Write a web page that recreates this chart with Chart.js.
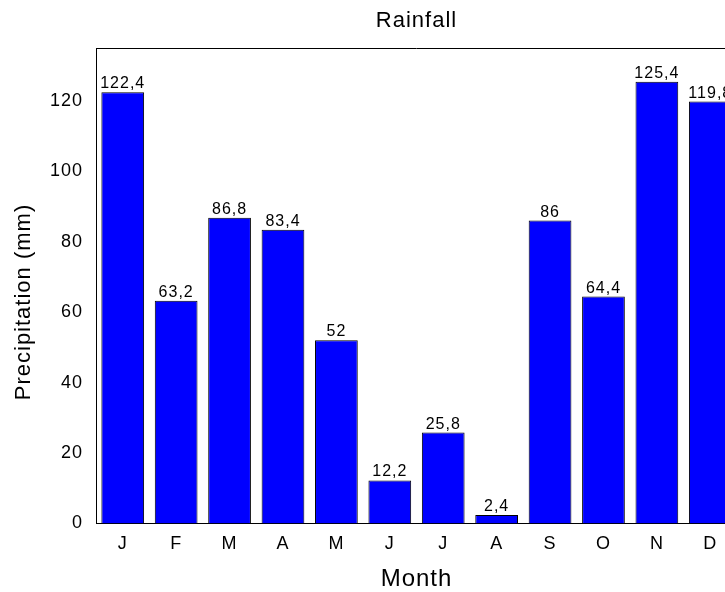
<!DOCTYPE html>
<html>
<head>
<meta charset="utf-8">
<script src="https://cdn.jsdelivr.net/npm/chart.js@4/dist/chart.umd.min.js"></script>
<style>
  html, body { margin: 0; padding: 0; background: #fff; overflow: hidden; }
  #wrap { width: 745px; height: 592px; }
</style>
</head>
<body>
<div id="wrap"><canvas id="myChart" width="745" height="592"></canvas></div>
<script>
// Monthly rainfall data
const months = ['J', 'F', 'M', 'A', 'M', 'J', 'J', 'A', 'S', 'O', 'N', 'D'];
const rainfall = [122.4, 63.2, 86.8, 83.4, 52, 12.2, 25.8, 2.4, 86, 64.4, 125.4, 119.8];
const yTicks = [0, 20, 40, 60, 80, 100, 120];

const FONT = "'Liberation Sans', Arial, sans-serif";

// value labels on top of bars, titles and the top frame line
const extras = {
    id: 'extras',
    beforeLayout(chart) {
        chart.ctx.letterSpacing = '1px';
    },
    beforeDraw(chart) {
        chart.ctx.letterSpacing = '1px';
    },
    afterDatasetsDraw(chart) {
        const ctx = chart.ctx;
        const area = chart.chartArea;
        ctx.save();
        ctx.letterSpacing = '1px';
        // top frame line
        ctx.strokeStyle = '#000';
        ctx.lineWidth = 1;
        ctx.beginPath();
        ctx.moveTo(area.left, Math.round(area.top) + 0.5);
        ctx.lineTo(area.right, Math.round(area.top) + 0.5);
        ctx.stroke();
        // bar values
        ctx.fillStyle = '#000';
        ctx.font = '16px ' + FONT;
        ctx.textAlign = 'center';
        ctx.textBaseline = 'alphabetic';
        chart.getDatasetMeta(0).data.forEach(function(bar, i) {
            const txt = String(rainfall[i]).replace('.', ',');
            ctx.fillText(txt, bar.x, bar.y - 4);
        });
        // title
        ctx.font = '22px ' + FONT;
        ctx.textBaseline = 'middle';
        ctx.fillText('Rainfall', (area.left + area.right) / 2, 21);
        // y axis title
        ctx.translate(24, 302);
        ctx.rotate(-Math.PI / 2);
        ctx.fillText('Precipitation (mm)', 0, 0);
        ctx.restore();
    }
};

const ctx = document.getElementById('myChart').getContext('2d');
const myChart = new Chart(ctx, {
    type: 'bar',
    data: {
        labels: months,
        datasets: [{
            label: 'Rainfall',
            data: rainfall,
            backgroundColor: '#0000ff',
            borderColor: '#000000',
            borderWidth: 1,
            categoryPercentage: 0.8,
            barPercentage: 1.0
        }]
    },
    options: {
        responsive: false,
        animation: false,
        layout: { padding: { top: 48, right: 8, left: 37, bottom: 1 } },
        plugins: {
            legend: { display: false },
            title: { display: false },
            tooltip: { enabled: false }
        },
        scales: {
            x: {
                offset: true,
                grid: { display: false, drawTicks: false },
                border: { display: true, color: '#000', width: 1 },
                ticks: { color: '#000', font: { family: FONT, size: 18 }, padding: 10 },
                title: { display: true, text: 'Month', color: '#000', font: { family: FONT, size: 24, lineHeight: 1 }, padding: { top: 2, bottom: 0 } }
            },
            y: {
                min: 0,
                max: 135,
                afterBuildTicks(axis) {
                    axis.ticks = yTicks.map(function(v) { return { value: v }; });
                },
                grid: { display: false, drawTicks: false },
                border: { display: true, color: '#000', width: 1 },
                ticks: { color: '#000', font: { family: FONT, size: 18 }, padding: 13 },
                title: { display: false }
            }
        }
    },
    plugins: [extras]
});
</script>
</body>
</html>
